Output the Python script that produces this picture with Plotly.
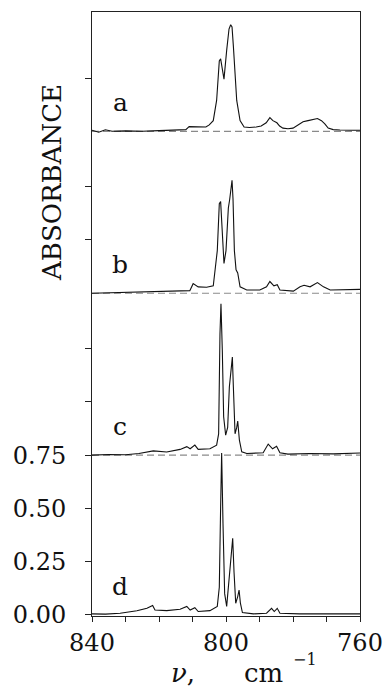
import plotly.graph_objects as go

# ---- data (wavenumber cm^-1, absorbance above each trace's baseline) ----
panel_labels = ["a", "b", "c", "d"]
panel_offsets = [2.27, 1.51, 0.75, 0.0]

wn_a = [840, 838, 836, 834, 830, 825, 820, 815, 812, 811, 808, 806, 805, 803.8, 802.8, 802.0,
        801.6, 801.1, 800.6, 799.8, 799.1, 798.6, 798.2, 797.8, 797.4, 796.8, 795.8, 794.6,
        793, 791, 789.5, 788, 786.9, 786.0, 784.8, 784, 783, 781.5, 780, 778.5, 777, 775.5,
        774, 772.7, 771.5, 770.5, 769.5, 768, 766, 764, 762, 760]
ab_a = [0.005, -0.004, 0.007, 0.0, 0.002, 0.0, 0.003, 0.005, 0.008, 0.022, 0.02, 0.02, 0.03,
        0.05, 0.145, 0.33, 0.34, 0.28, 0.245, 0.38, 0.48, 0.50, 0.49, 0.40, 0.28, 0.145, 0.05,
        0.02, 0.018, 0.02, 0.025, 0.04, 0.064, 0.05, 0.04, 0.025, 0.015, 0.012, 0.015, 0.03,
        0.045, 0.05, 0.055, 0.06, 0.05, 0.035, 0.015, 0.008, 0.006, 0.004, 0.005, 0.005]

wn_b = [840, 835, 830, 825, 820, 815, 812, 810.8, 809.8, 808.3, 805.8, 803.8, 802.6, 802.0,
        801.6, 801.2, 800.6, 800.0, 799.3, 798.9, 798.5, 798.2, 797.9, 797.5, 797.0, 796.5,
        795.8, 793.8, 789.9, 787.9, 786.9, 785.7, 784.7, 783.9, 779.9, 777.9, 776.7, 774.9,
        772.7, 770.9, 768.9, 765, 762, 760]
ab_b = [0.0, 0.002, 0.004, 0.006, 0.008, 0.01, 0.012, 0.012, 0.045, 0.03, 0.028, 0.035, 0.2,
        0.42, 0.43, 0.29, 0.14, 0.2, 0.4, 0.44, 0.48, 0.53, 0.44, 0.2, 0.11, 0.095, 0.03,
        0.015, 0.015, 0.03, 0.055, 0.035, 0.04, 0.015, 0.01, 0.03, 0.037, 0.03, 0.05, 0.03,
        0.015, 0.015, 0.016, 0.018]

wn_c = [840, 835, 830, 826, 821.7, 817.7, 813.7, 811.7, 810.7, 809.3, 808.3, 804.8, 802.8,
        802.2, 801.8, 801.5, 801.1, 800.7, 800.1, 799.5, 799.0, 798.6, 798.1, 797.8, 797.3,
        796.8, 796.5, 796.0, 795.3, 793.8, 788.9, 787.4, 786.1, 784.9, 783.9, 781.5, 775,
        768, 762, 760]
ab_c = [0.0, 0.003, 0.002, 0.008, 0.02, 0.015, 0.027, 0.04, 0.03, 0.047, 0.027, 0.03, 0.047,
        0.1, 0.57, 0.71, 0.49, 0.18, 0.094, 0.13, 0.32, 0.37, 0.46, 0.32, 0.10, 0.13, 0.16,
        0.07, 0.016, 0.008, 0.011, 0.052, 0.03, 0.042, 0.011, 0.005, 0.008, 0.006, 0.008, 0.01]

wn_d = [840, 836, 831.6, 826.6, 823.6, 821.9, 821.2, 817.7, 813.7, 811.7, 810.7, 809.3, 808.3,
        804.8, 802.6, 802.0, 801.6, 801.3, 800.9, 800.4, 799.8, 799.2, 798.6, 798.0, 797.6,
        797.1, 796.5, 796.1, 795.7, 795.1, 791.8, 787.9, 786.4, 785.6, 784.7, 783.9, 778,
        770, 764, 760]
ab_d = [0.005, 0.004, 0.008, 0.02, 0.031, 0.044, 0.023, 0.02, 0.027, 0.04, 0.023, 0.034,
        0.016, 0.02, 0.04, 0.13, 0.51, 0.76, 0.43, 0.10, 0.04, 0.16, 0.27, 0.36, 0.2, 0.055,
        0.086, 0.117, 0.055, 0.011, 0.005, 0.008, 0.031, 0.016, 0.031, 0.008, 0.005, 0.006,
        0.004, 0.005]

spectra_wn = [wn_a, wn_b, wn_c, wn_d]
spectra_ab = [ab_a, ab_b, ab_c, ab_d]

x_tick_vals = [840, 830, 820, 810, 800, 790, 780, 770, 760]
x_tick_text = ["840", "", "", "", "800", "", "", "", "760"]
y_tick_vals = [0.0, 0.25, 0.5, 0.75, 1.0, 1.25, 1.76, 2.01, 2.52]
y_tick_text = ["0.00", "0.25", "0.50", "0.75", "", "", "", "", ""]

SERIF = "DejaVu Serif"
INK = "#111111"

fig = go.Figure()

# dashed baselines for the offset traces
for off in panel_offsets[:3]:
    fig.add_trace(go.Scatter(
        x=[840, 760], y=[off, off], mode="lines",
        line=dict(color="#8a8a8a", width=1.2, dash="7px,4px"),
        hoverinfo="skip", showlegend=False))

for wn, ab, off in zip(spectra_wn, spectra_ab, panel_offsets):
    fig.add_trace(go.Scatter(
        x=wn, y=[v + off for v in ab], mode="lines",
        line=dict(color=INK, width=1.1),
        showlegend=False))

for lab, off in zip(panel_labels, panel_offsets):
    fig.add_annotation(x=831.6, y=off + 0.135, xref="x", yref="y", text=lab,
                       xanchor="center", yanchor="middle",
                       showarrow=False, font=dict(family=SERIF, size=25, color=INK))

fig.update_layout(
    width=387, height=692,
    margin=dict(l=92, r=27, t=12, b=76, autoexpand=False),
    paper_bgcolor="white", plot_bgcolor="white",
    xaxis=dict(range=[840, 760], tickvals=x_tick_vals, ticktext=x_tick_text,
               ticks="outside", ticklen=5, tickwidth=1, tickcolor="#222",
               showline=True, linecolor="#222", linewidth=1, mirror=True,
               showgrid=False, zeroline=False, automargin=False,
               tickfont=dict(family=SERIF, size=24, color=INK)),
    yaxis=dict(range=[-0.005, 2.83], tickvals=y_tick_vals, ticktext=y_tick_text,
               ticks="outside", ticklen=6, tickwidth=1, tickcolor="#222",
               showline=True, linecolor="#222", linewidth=1, mirror=True,
               showgrid=False, zeroline=False, automargin=False, ticklabelstandoff=14,
               tickfont=dict(family=SERIF, size=24, color=INK)),
)

plot_l, plot_r, plot_t, plot_b = 92, 360, 12, 616
def px_to_paper(px, py):
    return (px - plot_l) / (plot_r - plot_l), (plot_b - py) / (plot_b - plot_t)

# axis titles, placed in pixel terms then converted to paper coordinates
title_items = [
    ("ABSORBANCE", 52, 183, 26, -90),
    ("<i>ν</i>,", 183, 673, 26, 0),
    ("cm", 263, 673, 26, 0),
    ("−1", 305, 659, 16, 0),
]
for txt, px, py, size, ang in title_items:
    xp, yp = px_to_paper(px, py)
    fig.add_annotation(x=xp, y=yp, xref="paper", yref="paper", text=txt, showarrow=False,
                       xanchor="center", yanchor="middle", textangle=ang,
                       font=dict(family=SERIF, size=size, color=INK))

fig.write_html("out.html",
               config={"displayModeBar": False},
               post_script="document.body.style.margin='0px';document.body.style.overflow='hidden';")
